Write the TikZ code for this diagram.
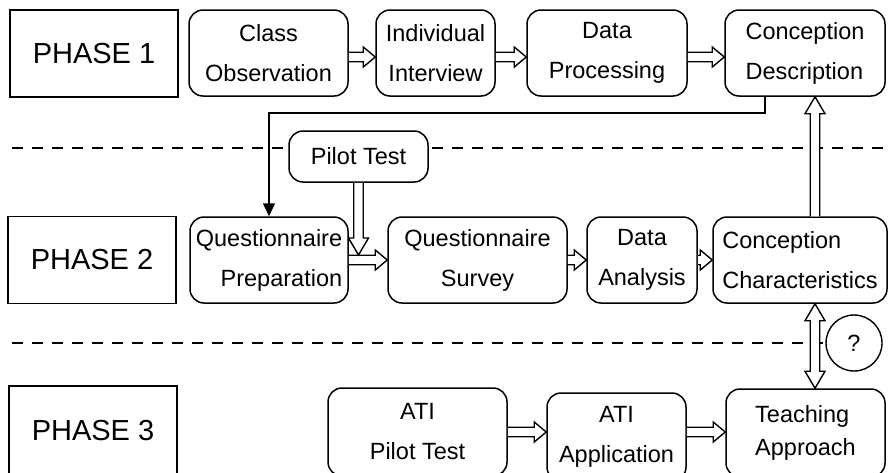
\documentclass[tikz,border=0pt]{standalone}
\usepackage{fontspec}
\setmainfont{Liberation Sans}
\usetikzlibrary{calc,arrows.meta,backgrounds}

% hollow block arrows: [head length]{from}{to}
\newcommand{\arrshaft}{4.75pt}
\newcommand{\arrwing}{10pt}
\newcommand{\hollowarrow}[3][12pt]{%
    \coordinate (fa-a) at (#2);
    \coordinate (fa-b) at (#3);
    \coordinate (fa-m) at ($(fa-b)!#1!(fa-a)$);
    \draw[blockarrow] ($(fa-a)!\arrshaft!90:(fa-b)$) -- ($(fa-m)!\arrshaft!-90:(fa-a)$)
        -- ($(fa-m)!\arrwing!-90:(fa-a)$) -- (fa-b) -- ($(fa-m)!\arrwing!90:(fa-a)$)
        -- ($(fa-m)!\arrshaft!90:(fa-a)$) -- ($(fa-a)!\arrshaft!-90:(fa-b)$);
}
\newcommand{\hollowdblarrow}[3][12pt]{%
    \coordinate (fa-a) at (#2);
    \coordinate (fa-b) at (#3);
    \coordinate (fa-m) at ($(fa-b)!#1!(fa-a)$);
    \coordinate (fa-n) at ($(fa-a)!#1!(fa-b)$);
    \draw[blockarrow] (fa-a) -- ($(fa-n)!\arrwing!90:(fa-b)$) -- ($(fa-n)!\arrshaft!90:(fa-b)$)
        -- ($(fa-m)!\arrshaft!-90:(fa-a)$) -- ($(fa-m)!\arrwing!-90:(fa-a)$) -- (fa-b)
        -- ($(fa-m)!\arrwing!90:(fa-a)$) -- ($(fa-m)!\arrshaft!90:(fa-a)$)
        -- ($(fa-n)!\arrshaft!-90:(fa-b)$) -- ($(fa-n)!\arrwing!-90:(fa-b)$) -- cycle;
}

\tikzset{
    phase/.style={draw, line width=1.5pt, fill=white, minimum width=168pt, minimum height=87pt,
        font=\fontsize{29}{34}\selectfont},
    stage/.style={draw, line width=1.5pt, rounded corners=14pt, fill=white, align=center,
        inner sep=0pt, minimum height=86pt, font=\fontsize{23.5}{40}\selectfont},
    blockarrow/.style={draw, line width=1.4pt, fill=white, line join=miter},
    divider/.style={line width=1.4pt, dash pattern=on 11pt off 9pt},
}

\begin{document}
\begin{tikzpicture}[x=1pt, y=-1pt]
    \useasboundingbox (0,0) rectangle (888,472);
    \clip (0,0) rectangle (888,472);

    % phase 1
    \node[phase] (ph1) at (94,53.5) {PHASE 1};
    \node[stage, minimum width=159pt] (co) at (268.5,53) {Class\\Observation};
    \node[stage, minimum width=119pt] (ii) at (435.5,53) {Individual\\Interview};
    \node[stage, minimum width=160pt] (dp) at (607,53) {Data\\Processing};
    \node[stage, minimum width=160pt, align=left] (cd) at (805,53) {Conception\\Description};

    % phase 2
    \node[stage, minimum width=139pt, minimum height=51pt] (pt) at (358.5,156.5) {Pilot Test};
    \node[phase] (ph2) at (92,260) {PHASE 2};
    \node[stage, minimum width=158pt, align=right] (qp) at (269,260) {Questionnaire\\Preparation};
    \node[stage, minimum width=179pt] (qs) at (477.5,260) {Questionnaire\\Survey};
    \node[stage, minimum width=110pt] (da) at (642,260) {Data\\Analysis};
    \node[stage, minimum width=174pt, align=left] (cc) at (800,260) {Conception\\Characteristics};

    % phase 3
    \node[phase, minimum height=90pt] (ph3) at (93,431) {PHASE 3};
    \node[stage, minimum width=179pt, minimum height=88pt] (ap) at (417.5,432) {ATI\\Pilot Test};
    \node[stage, minimum width=139pt, minimum height=88pt] (aa) at (616.5,437) {ATI\\Application};
    \node[stage, minimum width=159pt, minimum height=88pt, align=left] (ta) at (805.5,433) {Teaching\\[-7pt]Approach};

    \node[draw, circle, line width=1.4pt, fill=white, minimum size=56pt, inner sep=0pt,
        font=\fontsize{23.5}{28}\selectfont] (qm) at (854,343) {?};

    \begin{pgfonlayer}{background}
        \draw[divider] (12,148) -- (888,148);
        \draw[divider] (12,343) -- (qm.west);
    \end{pgfonlayer}

    % flow
    \hollowarrow{[yshift=-4pt]co.east}{[yshift=-4pt]ii.west}
    \hollowarrow{[yshift=-4pt]ii.east}{[yshift=-4pt]dp.west}
    \hollowarrow{[yshift=-4pt]dp.east}{[yshift=-4pt]cd.west}

    \draw[line width=1.5pt, -{Triangle[length=13pt,width=12pt]}]
        ([xshift=-40pt]cd.south) -- ++(0,16) -| (qp.north);

    \hollowarrow{qp.east}{qs.west}
    \hollowarrow{qs.east}{da.west}
    \hollowarrow{da.east}{cc.west}
    \coordinate (join) at ($(pt.south |- qp.east)+(0,-5)$);
    \hollowarrow[17pt]{pt.south}{join}
    \hollowarrow[17pt]{[xshift=15pt]cc.north}{[xshift=10pt]cd.south}

    \hollowdblarrow[17pt]{[xshift=15pt]cc.south}{[xshift=9.5pt]ta.north}
    \hollowarrow{ap.east}{aa.west |- ap.east}
    \hollowarrow{aa.east |- ap.east}{ta.west |- ap.east}
\end{tikzpicture}
\end{document}
